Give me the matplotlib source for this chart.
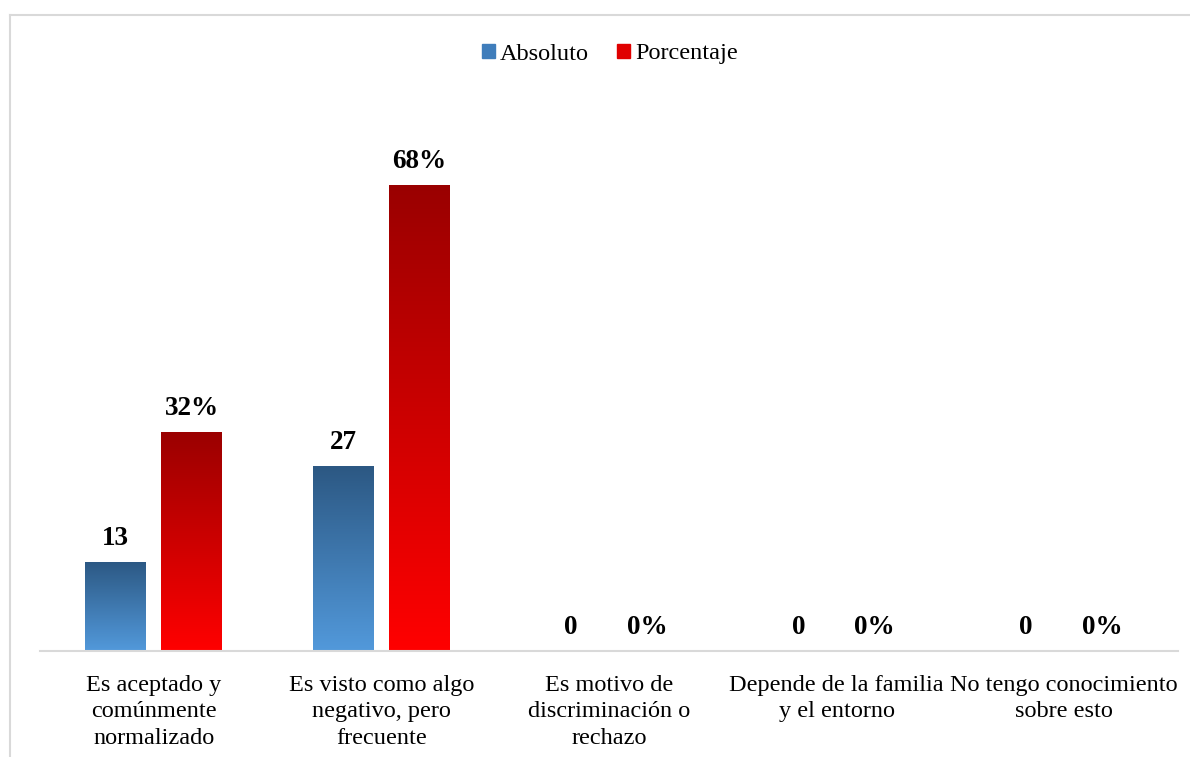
import numpy as np
import matplotlib
matplotlib.use("Agg")
import matplotlib.pyplot as plt
from matplotlib.colors import LinearSegmentedColormap
from matplotlib.lines import Line2D

plt.rcParams['font.family'] = ['Liberation Serif', 'DejaVu Serif']

categorias = ["Es aceptado y\ncomúnmente\nnormalizado",
              "Es visto como algo\nnegativo, pero\nfrecuente",
              "Es motivo de\ndiscriminación o\nrechazo",
              "Depende de la familia\ny el entorno",
              "No tengo conocimiento\nsobre esto"]
absoluto = [13, 27, 0, 0, 0]
porcentaje = [32, 68, 0, 0, 0]

cmap_azul = LinearSegmentedColormap.from_list("azul", ["#5299DB", "#2C5883"])
cmap_rojo = LinearSegmentedColormap.from_list("rojo", ["#FF0000", "#9A0000"])

fig = plt.figure(figsize=(11.9, 7.57), dpi=100)
ax = fig.add_axes([40 / 1190, 1 - 651 / 757, 1138 / 1190, 548 / 757])

x = np.arange(len(categorias))
ancho = 0.268
desp = 0.167


def barras_degradado(ax, xs, vals, cmap):
    bars = ax.bar(xs, vals, ancho, color="none", edgecolor="none")
    grad = np.linspace(0, 1, 256).reshape(-1, 1)
    for b, v in zip(bars, vals):
        if v <= 0:
            continue
        x0 = b.get_x()
        im = ax.imshow(grad, cmap=cmap, origin="lower", aspect="auto",
                       extent=[x0, x0 + b.get_width(), 0, v], zorder=2)
        im.set_clip_path(b)
    return bars


barras_degradado(ax, x - desp, absoluto, cmap_azul)
barras_degradado(ax, x + desp, porcentaje, cmap_rojo)

for xi, v in zip(x - desp, absoluto):
    ax.text(xi, v + 1.6, f"{v}", ha="center", va="bottom",
            fontsize=19.5, fontweight="bold")
for xi, v in zip(x + desp, porcentaje):
    ax.text(xi, v + 1.6, f"{v}%", ha="center", va="bottom",
            fontsize=19.5, fontweight="bold")

ax.set_xlim(-0.5, len(categorias) - 0.5)
ax.set_ylim(0, 80)
ax.set_xticks(x)
ax.set_xticklabels(categorias, fontsize=17.5, linespacing=1.36)
ax.tick_params(axis="x", length=0, pad=17)
ax.set_yticks([])
for s in ["top", "right", "left"]:
    ax.spines[s].set_visible(False)
ax.spines["bottom"].set_color("#D9D9D9")
ax.spines["bottom"].set_linewidth(1.5)

handles = [plt.Rectangle((0, 0), 1, 1, color="#3F7DBB"),
           plt.Rectangle((0, 0), 1, 1, color="#E00000")]
fig.legend(handles, ["Absoluto", "Porcentaje"], loc="center",
           bbox_to_anchor=(610 / 1190, 1 - 54 / 757), ncol=2, frameon=False,
           fontsize=17.5, handlelength=0.55, handleheight=0.55,
           handletextpad=0.2, columnspacing=1.15)

# marco del grafico
fig.add_artist(Line2D([10 / 1190, 1], [1 - 15 / 757, 1 - 15 / 757],
                      color="#D9D9D9", lw=1.5, transform=fig.transFigure))
fig.add_artist(Line2D([10 / 1190, 10 / 1190], [0, 1 - 15 / 757],
                      color="#D9D9D9", lw=1.5, transform=fig.transFigure))

fig.savefig("out.png", dpi=100, facecolor="white")
